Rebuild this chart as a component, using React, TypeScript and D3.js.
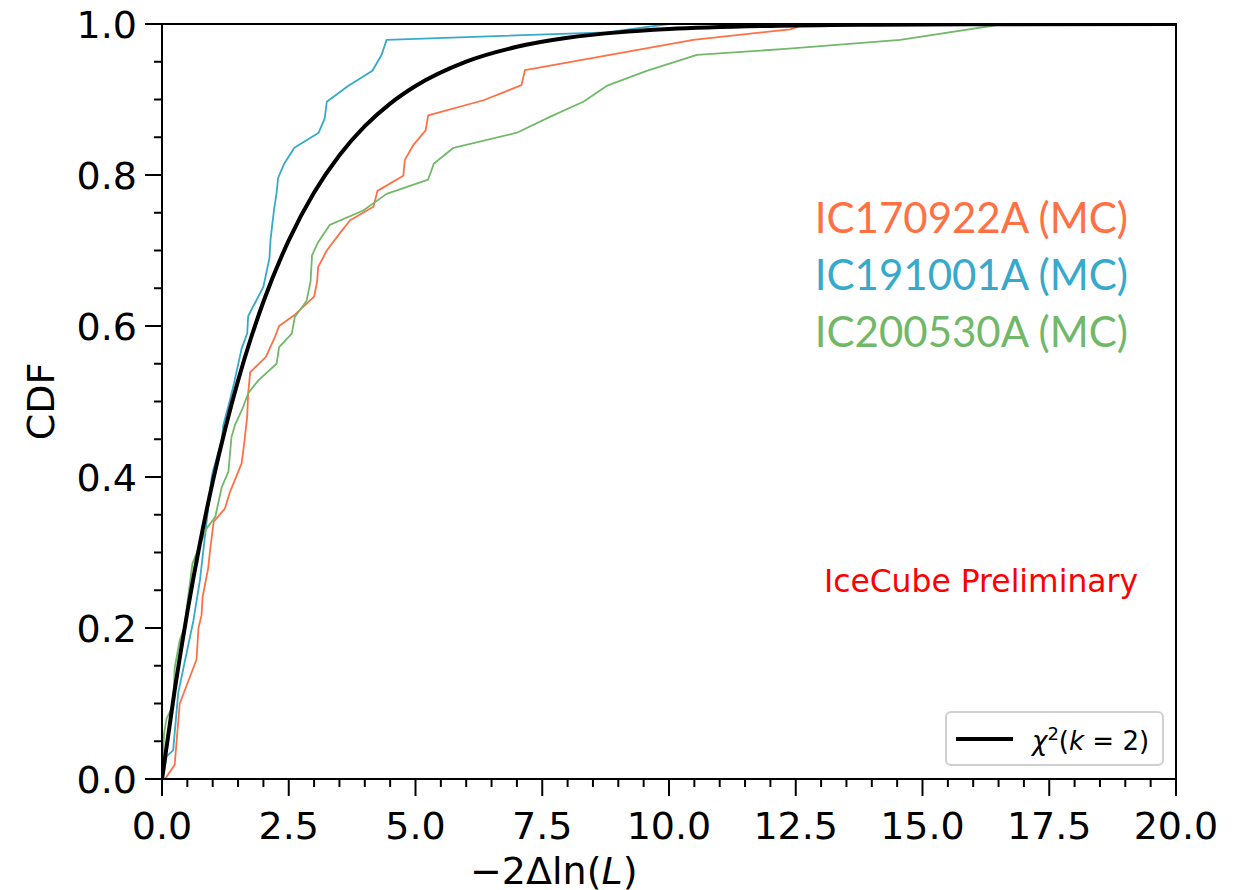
import React from "react";
import * as d3 from "d3";

const blueX = [0, 0.02, 0.09, 0.22, 0.32, 0.62, 0.75, 0.98, 1.01, 1.18, 1.21, 1.34, 1.42, 1.57, 1.68, 1.70, 2.0, 2.12, 2.14, 2.21, 2.26, 2.29, 2.41, 2.61, 3.09, 3.21, 3.25, 3.67, 4.15, 4.33, 4.43, 8.77, 10.0];
const blueY = [0, 0.0, 0.03, 0.038, 0.114, 0.21, 0.264, 0.40, 0.409, 0.449, 0.469, 0.502, 0.524, 0.570, 0.590, 0.613, 0.652, 0.690, 0.714, 0.754, 0.776, 0.796, 0.815, 0.836, 0.856, 0.875, 0.897, 0.918, 0.938, 0.959, 0.979, 0.989, 1.0];

const orangeX = [0, 0.06, 0.25, 0.35, 0.68, 0.72, 0.78, 0.80, 0.91, 0.95, 1.02, 1.24, 1.34, 1.57, 1.62, 1.68, 1.70, 1.74, 2.05, 2.23, 2.31, 2.62, 3.0, 3.06, 3.08, 3.25, 3.51, 3.71, 4.17, 4.25, 4.76, 4.79, 4.96, 5.20, 5.25, 6.34, 7.09, 7.16, 10.48, 12.39, 12.7];
const orangeY = [0, 0.0, 0.019, 0.10, 0.158, 0.2, 0.217, 0.241, 0.279, 0.304, 0.341, 0.358, 0.38, 0.418, 0.444, 0.48, 0.511, 0.539, 0.559, 0.586, 0.600, 0.615, 0.639, 0.659, 0.678, 0.70, 0.723, 0.740, 0.758, 0.779, 0.799, 0.82, 0.840, 0.859, 0.879, 0.899, 0.919, 0.939, 0.979, 0.993, 1.0];

const greenX = [0, 0.04, 0.09, 0.22, 0.25, 0.35, 0.45, 0.49, 0.60, 0.68, 0.88, 1.05, 1.18, 1.31, 1.37, 1.44, 1.59, 1.70, 1.90, 2.26, 2.31, 2.56, 2.62, 2.85, 2.93, 2.96, 3.08, 3.31, 3.97, 4.43, 5.25, 5.36, 5.75, 7.0, 7.65, 8.31, 8.77, 9.56, 10.55, 12.3, 14.56, 16.6];
const greenY = [0, 0.06, 0.08, 0.098, 0.147, 0.184, 0.202, 0.228, 0.285, 0.299, 0.332, 0.347, 0.387, 0.407, 0.453, 0.469, 0.491, 0.511, 0.528, 0.55, 0.572, 0.59, 0.612, 0.633, 0.659, 0.694, 0.711, 0.734, 0.753, 0.775, 0.794, 0.815, 0.836, 0.856, 0.877, 0.897, 0.918, 0.938, 0.959, 0.967, 0.979, 1.0];

// chi^2 (k=2) CDF values
const chiX = [0, 0.25, 0.5, 0.75, 1, 1.25, 1.5, 1.75, 2, 2.5, 3, 3.5, 4, 4.5, 5, 6, 7, 8, 9, 10, 12, 14, 16, 20];
const chiY = [0, 0.1175, 0.2212, 0.3127, 0.3935, 0.4647, 0.5276, 0.5831, 0.6321, 0.7135, 0.7769, 0.8262, 0.8647, 0.8946, 0.9179, 0.9502, 0.9698, 0.9817, 0.9889, 0.9933, 0.9975, 0.9991, 0.9997, 1.0];

const xTicks = [0, 2.5, 5, 7.5, 10, 12.5, 15, 17.5, 20];
const yTicks = [0, 0.2, 0.4, 0.6, 0.8, 1.0];

const labels = ["IC170922A (MC)", "IC191001A (MC)", "IC200530A (MC)"];
const colors = ["#ff7043", "#36a9cc", "#72b86a"];

export default function App() {
  const L = 162, R = 1176, T = 24, B = 779;
  const x = d3.scaleLinear().domain([0, 20]).range([L, R]);
  const y = d3.scaleLinear().domain([0, 1]).range([B, T]);
  const line = d3.line<[number, number]>().x(d => x(d[0])).y(d => y(d[1]));
  const smooth = d3.line<[number, number]>().x(d => x(d[0])).y(d => y(d[1])).curve(d3.curveMonotoneX);
  const zip = (a: number[], b: number[]) => a.map((v, i) => [v, b[i]] as [number, number]);
  const series = [zip(orangeX, orangeY), zip(blueX, blueY), zip(greenX, greenY)];
  const xMinor = d3.range(0, 20.001, 0.5).filter(v => Math.abs(v / 2.5 - Math.round(v / 2.5)) > 1e-6);
  const yMinor = d3.range(0, 1.0001, 0.05).filter(v => Math.abs(v / 0.2 - Math.round(v / 0.2)) > 1e-6);
  const font = "'DejaVu Sans', sans-serif";
  return (
    <svg width={1236} height={890} style={{ position: "absolute", left: 0, top: 0, background: "#fff" }}>
      <defs>
        <clipPath id="plot">
          <rect x={L} y={T} width={R - L} height={B - T} />
        </clipPath>
      </defs>
      <g clipPath="url(#plot)">
        {series.map((s, i) => (
          <path key={i} d={line(s) || ""} fill="none" stroke={colors[i]} strokeWidth={1.8} strokeLinejoin="round" />
        ))}
        <path d={smooth(zip(chiX, chiY)) || ""} fill="none" stroke="#000" strokeWidth={4} />
      </g>
      <rect x={L} y={T} width={R - L} height={B - T} fill="none" stroke="#000" strokeWidth={2} />
      {xTicks.map(t => (
        <g key={"xt" + t}>
          <line x1={x(t)} x2={x(t)} y1={B} y2={B + 17} stroke="#000" strokeWidth={2} />
          <text x={x(t)} y={B + 60} textAnchor="middle" fontFamily={font} fontSize={38} fill="#000">{t.toFixed(1)}</text>
        </g>
      ))}
      {xMinor.map(t => (
        <line key={"xm" + t} x1={x(t)} x2={x(t)} y1={B} y2={B + 8} stroke="#000" strokeWidth={2} />
      ))}
      {yTicks.map(t => (
        <g key={"yt" + t}>
          <line x1={L - 17} x2={L} y1={y(t)} y2={y(t)} stroke="#000" strokeWidth={2} />
          <text x={L - 25} y={y(t) + 14} textAnchor="end" fontFamily={font} fontSize={38} fill="#000">{t.toFixed(1)}</text>
        </g>
      ))}
      {yMinor.map(t => (
        <line key={"ym" + t} x1={L - 8} x2={L} y1={y(t)} y2={y(t)} stroke="#000" strokeWidth={2} />
      ))}
      <text transform={`translate(54,${(T + B) / 2}) rotate(-90)`} textAnchor="middle" fontFamily={font} fontSize={38} fill="#000">CDF</text>
      <text x={470} y={884} fontFamily={font} fontSize={38} fill="#000">
        −2Δln(<tspan fontStyle="italic">L</tspan>)
      </text>
      {labels.map((lab, i) => (
        <text key={lab} x={1128} y={233 + i * 57} textAnchor="end" fontFamily="Lato, 'Open Sans', sans-serif" fontSize={42} fill={colors[i]}>{lab}</text>
      ))}
      <text x={1138} y={592} textAnchor="end" fontFamily={font} fontSize={31.4} fill="#ff0000">IceCube Preliminary</text>
      <rect x={946} y={712} width={217} height={53} rx={5} fill="#fff" fillOpacity={0.8} stroke="#d0d0d0" strokeWidth={2} />
      <line x1={956} x2={1013} y1={739} y2={739} stroke="#000" strokeWidth={4} />
      <text x={1032} y={750} fontFamily={font} fontSize={26} fill="#000">
        <tspan fontStyle="italic">χ</tspan>
        <tspan fontSize={18} dy={-10}>2</tspan>
        <tspan dy={10}>(</tspan>
        <tspan fontStyle="italic">k</tspan>
        <tspan> = 2)</tspan>
      </text>
    </svg>
  );
}
